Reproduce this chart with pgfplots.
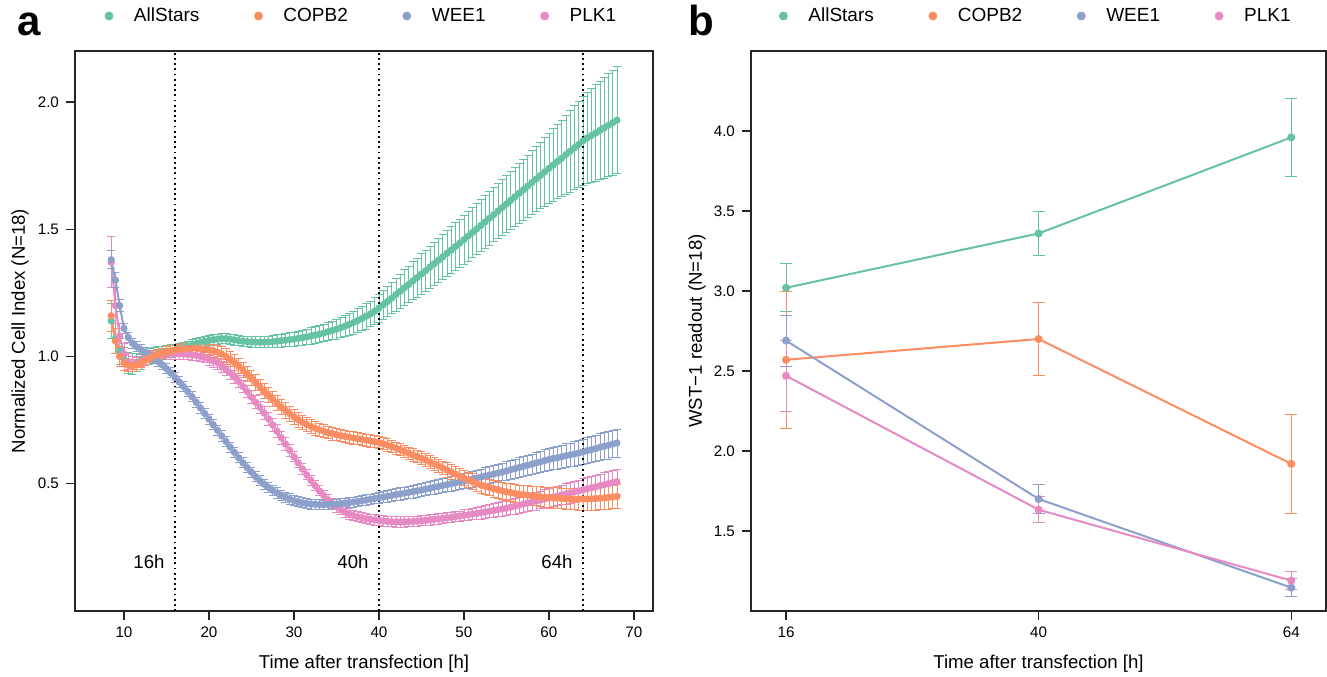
\documentclass[border=0pt]{standalone}
\usepackage{fontspec}
\setmainfont{Liberation Sans}
\usepackage{pgfplots}
\usepackage{pgfplotstable}
\pgfplotsset{compat=1.18}

\definecolor{cAll}{HTML}{66C2A5}
\definecolor{cCop}{HTML}{FC8D62}
\definecolor{cWee}{HTML}{8DA0CB}
\definecolor{cPlk}{HTML}{E78AC3}

% xCELLigence time course, mean and error per siRNA
\pgfplotstableread{
t A Ae C Ce W We P Pe
8.5 1.140 .070 1.160 .060 1.380 .035 1.370 .100
9.0 1.070 .060 1.060 .050 1.300 .030 1.200 .070
9.5 1.020 .050 1.000 .040 1.200 .025 1.080 .050
10.0 0.990 .045 0.975 .030 1.110 .020 1.010 .040
10.5 0.975 .040 0.965 .025 1.075 .020 0.980 .030
11.0 0.970 .040 0.962 .020 1.052 .020 0.970 .030
11.5 0.975 .035 0.967 .020 1.038 .020 0.972 .025
12.0 0.985 .035 0.975 .020 1.027 .020 0.980 .020
12.5 0.995 .030 0.985 .020 1.016 .020 0.990 .020
13.0 1.000 .030 0.995 .020 1.005 .020 0.998 .020
13.5 1.005 .030 1.002 .020 0.993 .020 1.003 .020
14.0 1.010 .028 1.008 .020 0.980 .020 1.006 .020
14.5 1.015 .026 1.013 .020 0.967 .020 1.008 .020
15.0 1.020 .025 1.018 .020 0.952 .020 1.009 .020
15.5 1.022 .024 1.022 .020 0.936 .020 1.010 .020
16.0 1.025 .022 1.025 .020 0.918 .020 1.010 .020
16.5 1.030 .020 1.028 .020 0.900 .020 1.010 .020
17.0 1.035 .020 1.030 .020 0.882 .020 1.009 .020
17.5 1.040 .020 1.031 .020 0.862 .020 1.008 .020
18.0 1.045 .020 1.032 .020 0.842 .020 1.006 .020
18.5 1.050 .020 1.032 .020 0.820 .020 1.004 .020
19.0 1.055 .020 1.031 .020 0.798 .020 1.000 .020
19.5 1.060 .020 1.029 .020 0.776 .020 0.995 .020
20.0 1.063 .020 1.026 .022 0.754 .020 0.990 .025
20.5 1.066 .020 1.022 .024 0.732 .020 0.983 .025
21.0 1.068 .020 1.017 .026 0.710 .020 0.975 .025
21.5 1.070 .020 1.010 .028 0.688 .020 0.963 .025
22.0 1.070 .020 1.000 .030 0.666 .020 0.950 .025
22.5 1.068 .020 0.989 .030 0.644 .020 0.936 .025
23.0 1.065 .020 0.976 .030 0.623 .020 0.920 .025
23.5 1.062 .020 0.962 .030 0.602 .020 0.902 .025
24.0 1.060 .020 0.947 .030 0.582 .020 0.882 .025
24.5 1.058 .020 0.931 .030 0.563 .020 0.862 .025
25.0 1.057 .020 0.915 .030 0.545 .020 0.840 .025
25.5 1.056 .021 0.898 .030 0.528 .020 0.820 .025
26.0 1.056 .022 0.881 .030 0.512 .020 0.800 .025
26.5 1.056 .022 0.864 .030 0.498 .020 0.778 .025
27.0 1.057 .023 0.848 .030 0.485 .020 0.755 .025
27.5 1.058 .024 0.832 .030 0.474 .020 0.731 .025
28.0 1.060 .025 0.817 .030 0.464 .020 0.706 .025
28.5 1.062 .026 0.802 .030 0.455 .020 0.681 .025
29.0 1.064 .026 0.788 .030 0.447 .020 0.656 .025
29.5 1.066 .027 0.775 .030 0.440 .020 0.631 .025
30.0 1.068 .028 0.763 .029 0.434 .020 0.606 .020
30.5 1.071 .029 0.752 .029 0.429 .020 0.582 .020
31.0 1.074 .030 0.742 .028 0.425 .020 0.558 .020
31.5 1.077 .031 0.733 .028 0.422 .020 0.535 .020
32.0 1.080 .032 0.725 .027 0.420 .020 0.513 .020
32.5 1.084 .033 0.718 .027 0.419 .020 0.492 .020
33.0 1.088 .034 0.712 .026 0.418 .020 0.472 .020
33.5 1.092 .035 0.706 .026 0.418 .020 0.454 .020
34.0 1.097 .036 0.701 .025 0.418 .020 0.437 .020
34.5 1.102 .037 0.697 .025 0.419 .020 0.422 .020
35.0 1.107 .039 0.693 .024 0.420 .020 0.409 .020
35.5 1.113 .040 0.689 .024 0.422 .020 0.398 .020
36.0 1.119 .042 0.686 .024 0.424 .020 0.389 .020
36.5 1.126 .043 0.683 .024 0.426 .020 0.381 .020
37.0 1.133 .045 0.680 .024 0.428 .020 0.375 .020
37.5 1.141 .046 0.677 .024 0.430 .020 0.370 .020
38.0 1.149 .048 0.674 .024 0.433 .020 0.366 .020
38.5 1.158 .050 0.671 .024 0.436 .020 0.363 .020
39.0 1.167 .051 0.668 .024 0.439 .020 0.360 .020
39.5 1.178 .053 0.665 .024 0.442 .020 0.358 .020
40.0 1.190 .055 0.662 .024 0.445 .022 0.356 .020
40.5 1.203 .057 0.657 .024 0.448 .022 0.354 .020
41.0 1.216 .060 0.652 .024 0.451 .023 0.352 .020
41.5 1.229 .062 0.646 .024 0.454 .023 0.351 .020
42.0 1.243 .065 0.640 .024 0.457 .023 0.350 .020
42.5 1.256 .067 0.634 .024 0.460 .024 0.350 .020
43.0 1.270 .070 0.627 .024 0.463 .024 0.350 .020
43.5 1.283 .072 0.620 .024 0.466 .024 0.351 .020
44.0 1.297 .075 0.613 .024 0.469 .025 0.352 .020
44.5 1.310 .077 0.607 .024 0.472 .025 0.353 .020
45.0 1.324 .079 0.600 .025 0.475 .025 0.355 .020
45.5 1.337 .081 0.593 .025 0.479 .026 0.356 .020
46.0 1.351 .083 0.585 .026 0.482 .026 0.358 .020
46.5 1.364 .085 0.578 .026 0.486 .027 0.360 .020
47.0 1.378 .087 0.570 .027 0.489 .027 0.362 .020
47.5 1.391 .088 0.562 .027 0.493 .028 0.364 .020
48.0 1.405 .090 0.554 .028 0.496 .028 0.366 .020
48.5 1.418 .092 0.546 .028 0.500 .029 0.368 .020
49.0 1.432 .093 0.538 .029 0.503 .029 0.371 .020
49.5 1.445 .095 0.530 .029 0.507 .030 0.373 .020
50.0 1.459 .096 0.522 .030 0.510 .030 0.376 .022
50.5 1.473 .098 0.515 .030 0.514 .031 0.378 .022
51.0 1.487 .099 0.508 .031 0.518 .031 0.381 .023
51.5 1.501 .101 0.501 .031 0.522 .032 0.383 .024
52.0 1.515 .102 0.495 .032 0.526 .032 0.386 .025
52.5 1.529 .104 0.490 .032 0.530 .033 0.389 .026
53.0 1.543 .105 0.485 .033 0.534 .034 0.392 .026
53.5 1.557 .107 0.480 .033 0.538 .034 0.395 .027
54.0 1.571 .108 0.476 .034 0.542 .035 0.398 .028
54.5 1.585 .110 0.472 .034 0.546 .035 0.401 .029
55.0 1.599 .112 0.468 .035 0.550 .036 0.404 .029
55.5 1.613 .113 0.465 .035 0.555 .037 0.408 .030
56.0 1.627 .115 0.462 .036 0.559 .037 0.412 .031
56.5 1.641 .117 0.459 .036 0.564 .038 0.416 .032
57.0 1.655 .120 0.457 .037 0.568 .039 0.420 .032
57.5 1.669 .122 0.455 .037 0.573 .040 0.424 .033
58.0 1.683 .125 0.453 .038 0.577 .040 0.428 .034
58.5 1.697 .128 0.451 .038 0.582 .041 0.432 .035
59.0 1.711 .131 0.449 .039 0.586 .042 0.436 .035
59.5 1.725 .134 0.447 .039 0.591 .042 0.440 .036
60.0 1.739 .138 0.446 .040 0.595 .043 0.444 .037
60.5 1.752 .142 0.444 .040 0.599 .044 0.448 .038
61.0 1.766 .146 0.443 .041 0.602 .045 0.452 .038
61.5 1.779 .150 0.442 .041 0.606 .046 0.456 .039
62.0 1.793 .155 0.441 .041 0.610 .047 0.460 .040
62.5 1.806 .160 0.440 .042 0.613 .047 0.464 .041
63.0 1.820 .165 0.440 .042 0.617 .048 0.468 .041
63.5 1.833 .170 0.440 .043 0.621 .049 0.472 .042
64.0 1.847 .175 0.440 .043 0.625 .050 0.476 .043
64.5 1.858 .180 0.440 .044 0.630 .051 0.480 .044
65.0 1.868 .184 0.441 .044 0.634 .051 0.484 .044
65.5 1.878 .189 0.442 .045 0.638 .052 0.488 .045
66.0 1.888 .193 0.443 .045 0.643 .053 0.492 .046
66.5 1.898 .197 0.444 .046 0.647 .053 0.496 .047
67.0 1.908 .202 0.446 .046 0.651 .054 0.500 .048
67.5 1.918 .206 0.448 .047 0.656 .054 0.504 .049
68.0 1.928 .210 0.450 .047 0.660 .055 0.508 .050
}\rtca

% WST-1 endpoint readout
\pgfplotstableread{
t A Ae C Ce W We P Pe
16 3.020 0.150 2.570 0.430 2.690 0.160 2.470 0.220
40 3.360 0.140 2.700 0.230 1.700 0.090 1.633 0.080
64 3.960 0.245 1.920 0.310 1.146 0.055 1.190 0.055
}\wst

\pgfplotsset{
  rplot/.style={
    scale only axis, height=280pt,
    axis line style={black!85, line width=0.6pt},
    tick style={black!85, line width=0.6pt},
    tick align=outside, major tick length=4.5pt,
    xtick pos=left, ytick pos=left,
    tick label style={font=\fontsize{7.6}{9}\selectfont},
    label style={font=\fontsize{9.3}{11}\selectfont},
    /pgf/number format/assume math mode=true,
    xlabel style={at={(axis description cs:0.5,-0.0946)}, anchor=center},
    legend columns=4, legend cell align=left,
    legend style={draw=none, fill=none, inner sep=0pt, outer sep=0pt, anchor=west,
      font=\fontsize{9.5}{11}\selectfont,
      /tikz/every odd column/.append style={column sep=8.3pt},
      /tikz/every even column/.append style={column sep=25.3pt}},
    legend image code/.code={\fill[##1] (0pt,0pt) circle (2pt);},
  },
  cellidx/.style={forget plot, color=#1, line width=1pt, mark=*, mark size=1.3pt,
    mark options={solid, fill=#1, draw=#1},
    error bars/.cd, y dir=both, y explicit,
    error bar style={line width=0.45pt, #1},
    error mark options={rotate=90, mark size=2pt, line width=0.45pt, #1}},
  wstline/.style={forget plot, color=#1, line width=1pt, mark=*, mark size=1.5pt,
    mark options={solid, fill=#1, draw=#1},
    error bars/.cd, y dir=both, y explicit,
    error bar style={line width=0.5pt, #1},
    error mark options={rotate=90, mark size=3pt, line width=0.5pt, #1}},
  hline/.style={forget plot, black, line width=0.9pt, dash pattern=on 0.9pt off 1.7pt},
}

\begin{document}
\begin{tikzpicture}
\useasboundingbox (0,0) rectangle (663.5pt,338pt);

\begin{axis}[
  rplot,
  at={(37.5pt,32.5pt)}, anchor=south west, width=289pt,
  xmin=4.24, xmax=72.24, ymin=0, ymax=2.2,
  xtick={10,20,...,70}, ytick={0.5,1,1.5,2},
  yticklabel style={/pgf/number format/.cd, fixed, fixed zerofill, precision=1},
  xlabel={Time after transfection [h]},
  ylabel={Normalized Cell Index (N=18)},
  ylabel style={at={(axis description cs:-0.095,0.5)}, anchor=center},
  legend style={at={(axis description cs:0.0512,1.0625)}},
]
\addlegendimage{cAll}
\addlegendimage{cCop}
\addlegendimage{cWee}
\addlegendimage{cPlk}
\legend{AllStars,COPB2,WEE1,PLK1}
\addplot[cellidx=cAll] table[x=t, y=A, y error=Ae] {\rtca};
\addplot[cellidx=cPlk] table[x=t, y=P, y error=Pe] {\rtca};
\addplot[cellidx=cWee] table[x=t, y=W, y error=We] {\rtca};
\addplot[cellidx=cCop] table[x=t, y=C, y error=Ce] {\rtca};
\addplot[hline] coordinates {(16,0) (16,2.2)};
\addplot[hline] coordinates {(40,0) (40,2.2)};
\addplot[hline] coordinates {(64,0) (64,2.2)};
\node[anchor=east, inner sep=0pt, font=\fontsize{9.3}{11}\selectfont] at (axis cs:14.82,0.193) {16h};
\node[anchor=east, inner sep=0pt, font=\fontsize{9.3}{11}\selectfont] at (axis cs:38.82,0.193) {40h};
\node[anchor=east, inner sep=0pt, font=\fontsize{9.3}{11}\selectfont] at (axis cs:62.82,0.193) {64h};
\end{axis}

\begin{axis}[
  rplot,
  at={(375.5pt,32.5pt)}, anchor=south west, width=287.5pt,
  xmin=12.67, xmax=67.3, ymin=1.0, ymax=4.5,
  xtick={16,40,64}, ytick={1.5,2,2.5,3,3.5,4},
  yticklabel style={/pgf/number format/.cd, fixed, fixed zerofill, precision=1},
  xlabel={Time after transfection [h]},
  ylabel={WST−1 readout (N=18)},
  ylabel style={at={(axis description cs:-0.094,0.5)}, anchor=center},
  legend style={at={(axis description cs:0.0487,1.0625)}},
]
\addlegendimage{cAll}
\addlegendimage{cCop}
\addlegendimage{cWee}
\addlegendimage{cPlk}
\legend{AllStars,COPB2,WEE1,PLK1}
\addplot[wstline=cAll] table[x=t, y=A, y error=Ae] {\wst};
\addplot[wstline=cCop] table[x=t, y=C, y error=Ce] {\wst};
\addplot[wstline=cWee] table[x=t, y=W, y error=We] {\wst};
\addplot[wstline=cPlk] table[x=t, y=P, y error=Pe] {\wst};
\end{axis}

\node[anchor=base west, inner sep=0pt, font=\fontsize{21}{21}\selectfont\bfseries] at (8.5pt,320pt) {a};
\node[anchor=base west, inner sep=0pt, font=\fontsize{21}{21}\selectfont\bfseries] at (344pt,320pt) {b};
\end{tikzpicture}
\end{document}
